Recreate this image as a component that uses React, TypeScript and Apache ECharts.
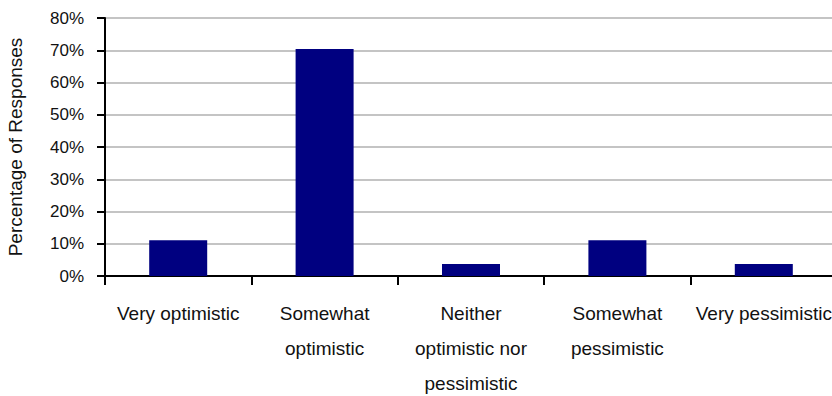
import React, { useEffect, useRef } from "react";
import * as echarts from "echarts";

// Survey outlook responses (share of respondents, %)
const categories = [
  "Very optimistic",
  "Somewhat optimistic",
  "Neither optimistic nor pessimistic",
  "Somewhat pessimistic",
  "Very pessimistic",
];
const categoryLabels = [
  "Very optimistic",
  "Somewhat\noptimistic",
  "Neither\noptimistic nor\npessimistic",
  "Somewhat\npessimistic",
  "Very pessimistic",
];
const responseShares = [11.1, 70.4, 3.7, 11.1, 3.7];
const yTicks = [0, 10, 20, 30, 40, 50, 60, 70, 80];

export default function App() {
  const ref = useRef<HTMLDivElement>(null);

  useEffect(() => {
    if (!ref.current) return;
    const chart = echarts.init(ref.current, undefined, { renderer: "svg" });
    chart.setOption({
      animation: false,
      grid: {
        left: 105,
        top: 18,
        width: 732,
        height: 258,
        containLabel: false,
        outerBoundsMode: "none",
      },
      xAxis: {
        type: "category",
        data: categories,
        axisLine: { show: true, lineStyle: { color: "#000", width: 2 } },
        axisTick: { show: true, length: 9, lineStyle: { color: "#000", width: 2 } },
        axisLabel: {
          interval: 0,
          margin: 20,
          fontFamily: "'Liberation Sans', Arial, sans-serif",
          fontSize: 19,
          lineHeight: 35,
          color: "#111",
          formatter: (_v: string, i: number) => categoryLabels[i],
        },
      },
      yAxis: {
        type: "value",
        min: yTicks[0],
        max: yTicks[yTicks.length - 1],
        interval: 10,
        name: "Percentage of Responses",
        nameLocation: "middle",
        nameGap: 80,
        nameRotate: 90,
        nameTextStyle: {
          fontFamily: "'Liberation Sans', Arial, sans-serif",
          fontSize: 19,
          color: "#111",
        },
        axisLine: { show: true, lineStyle: { color: "#000", width: 2 } },
        axisTick: { show: true, length: 8, lineStyle: { color: "#000", width: 2 } },
        axisLabel: {
          margin: 21,
          fontFamily: "'Liberation Sans', Arial, sans-serif",
          fontSize: 17,
          color: "#111",
          formatter: "{value}%",
        },
        splitLine: { show: true, lineStyle: { color: "#c4c4c4", width: 2 } },
      },
      series: [
        {
          type: "bar",
          data: responseShares,
          barWidth: 58,
          itemStyle: { color: "#000080" },
        },
      ],
    });
    return () => chart.dispose();
  }, []);

  return <div ref={ref} style={{ width: 832, height: 396, position: "absolute", left: 0, top: 0 }} />;
}
